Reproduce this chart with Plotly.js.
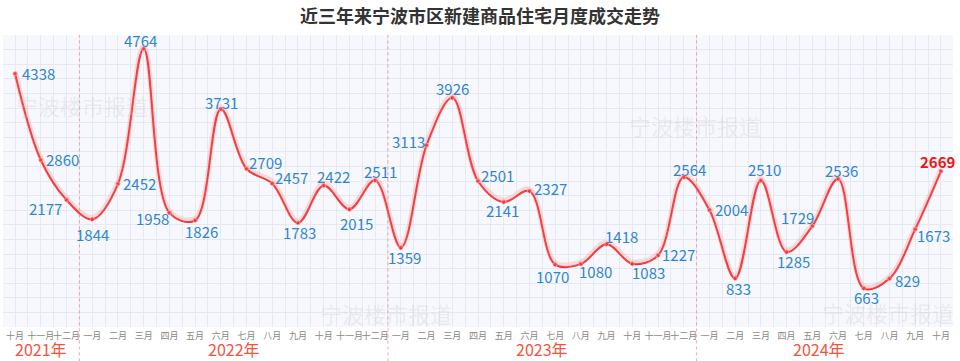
<!DOCTYPE html>
<html><head><meta charset="utf-8">
<script src="https://cdn.plot.ly/plotly-3.0.1.min.js"></script>
<style>html,body{margin:0;padding:0;background:#fff;}#chart{width:960px;height:361px;}</style>
</head><body><div id="chart"></div>
<script>
const monthLabels = ["十月","十一月","十二月",
 "一月","二月","三月","四月","五月","六月","七月","八月","九月","十月","十一月","十二月",
 "一月","二月","三月","四月","五月","六月","七月","八月","九月","十月","十一月","十二月",
 "一月","二月","三月","四月","五月","六月","七月","八月","九月","十月"];
const sales = [4338,2860,2177,
 1844,2452,4764,1958,1826,3731,2709,2457,1783,2422,2015,2511,
 1359,3113,3926,2501,2141,2327,1070,1080,1418,1083,1227,2564,
 2004,833,2510,1285,1729,2536,663,829,1673,2669];
const years = ["2021年","2022年","2023年","2024年"];

// layout helpers (positions, not data)
const yearCenters = [1, 8.5, 20.5, 31.25];
const yearBreaks = [2.5, 14.5, 26.5];
const labelShift = [[23,0],[22,0],[-21,9],
 [0,15],[22,0],[-3,-8],[-17,6],[6,11],[1,-7],[19,-6],[19,-6],[2,10],[10,-9],[7,14],[5,-9],
 [4,10],[-18,-4],[0,-9],[19,-5],[-1,9],[21,-3],[-3,12],[15,8],[15,-8],[16,9],[20,-1],[6,-8],
 [22,0],[3,10],[4,-11],[7,10],[-15,-9],[3,-8],[3,9],[18,2],[18,6],[-3,-10]];

const idx = sales.map((_, i) => i);
const last = sales.length - 1;

const glow = {
  x: idx, y: sales, type: "scatter", mode: "lines", yaxis: "y2",
  line: {shape: "spline", smoothing: 1, width: 5, color: "rgba(250,150,150,0.3)"},
  hoverinfo: "skip", showlegend: false
};
const main = {
  x: idx, y: sales, type: "scatter", mode: "lines+markers",
  line: {shape: "spline", smoothing: 1, width: 2, color: "#f21c1c"},
  marker: {size: 4, color: "#f21c1c", line: {width: 1, color: "rgba(250,160,160,0.8)"}},
  cliponaxis: false, showlegend: false, hoverinfo: "skip"
};

const shapes = yearBreaks.map(b => ({
  type: "line", xref: "x", yref: "paper", x0: b, x1: b, y0: -0.2, y1: 1,
  line: {color: "rgba(240,110,110,0.6)", width: 1, dash: "dot"}
}));

const annotations = [];
const wm = [[82,0.76],[695,0.692],[386,0.048],[888,0.051]];
wm.forEach(p => annotations.push({
  text: "宁波楼市报道", xref: "paper", yref: "paper", x: (p[0]-3)/950, y: p[1],
  xanchor: "center", yanchor: "middle",
  showarrow: false, font: {family: "Noto Sans CJK SC, sans-serif", size: 22, color: "rgba(200,200,205,0.3)"}
}));
sales.forEach((v, i) => annotations.push({
  text: i === last ? "<b>" + v + "</b>" : String(v),
  x: i, y: v, xref: "x", yref: "y", showarrow: false,
  xanchor: "center", yanchor: "middle",
  xshift: labelShift[i][0], yshift: -labelShift[i][1],
  font: {family: "Noto Sans CJK SC, Noto Sans, sans-serif", size: 15, color: i === last ? "#f01414" : "#2f86cf"}
}));
years.forEach((t, i) => annotations.push({
  text: t, xref: "x", yref: "paper", x: yearCenters[i], y: -0.077, yanchor: "middle", xanchor: "center",
  showarrow: false, font: {family: "Noto Sans CJK SC, sans-serif", size: 16, color: "#f0553f"}
}));

const layout = {
  width: 960, height: 361,
  margin: {l: 3, r: 7, t: 35, b: 34, autoexpand: false},
  paper_bgcolor: "#ffffff", plot_bgcolor: "#f7f8fd",
  title: {text: "<b>近三年来宁波市区新建商品住宅月度成交走势</b>", x: 0.5, xanchor: "center", y: 0.953, yanchor: "middle",
    font: {family: "Noto Sans CJK SC, sans-serif", size: 18, color: "#333333"}},
  xaxis: {range: [-0.47, 36.47], tickmode: "array", tickvals: idx, ticktext: monthLabels, tickangle: 0,
    automargin: false, ticklabelstandoff: 2,
    tickfont: {family: "Noto Sans CJK SC, sans-serif", size: 9, color: "#888"},
    showgrid: false, zeroline: false, showline: false, ticks: "", fixedrange: true,
    minor: {tickmode: "linear", dtick: 0.5, tick0: -0.5, showgrid: true, gridcolor: "#e6e8f2", gridwidth: 1}},
  yaxis: {range: [0, 5000], showticklabels: false, dtick: 250, showgrid: true, gridcolor: "#e6e8f2",
    zeroline: false, showline: false, ticks: "", fixedrange: true, automargin: false},
  yaxis2: {range: [-35, 4965], overlaying: "y", visible: false, showgrid: false, fixedrange: true},
  shapes: shapes, annotations: annotations
};
Plotly.newPlot("chart", [glow, main], layout, {displayModeBar: false, staticPlot: true});
</script></body></html>
